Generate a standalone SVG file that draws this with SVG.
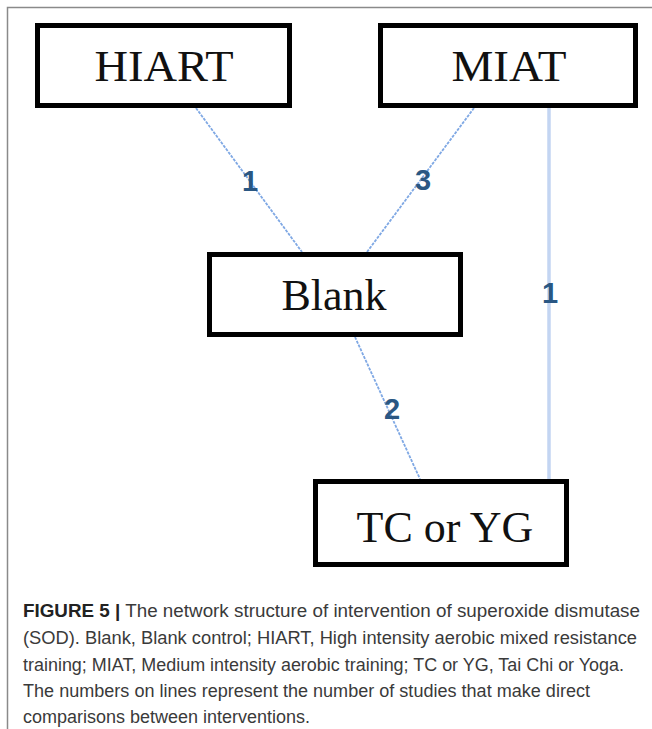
<svg xmlns="http://www.w3.org/2000/svg" width="652" height="729" viewBox="0 0 652 729">
<style>
.box{fill:#fff;stroke:#000;stroke-width:5}
.lbl{font-family:"Liberation Serif","Times New Roman",serif;font-size:44px;fill:#111;text-anchor:middle}
.edge{stroke:#7fa8e4;stroke-width:1.8;fill:none;stroke-dasharray:3 1.2}
.edge2{stroke:#c3d5f2;stroke-width:3.5;fill:none}
.num{font-family:"Liberation Sans",Arial,sans-serif;font-weight:bold;font-size:29px;fill:#2a5783;text-anchor:middle}
.cap{font-family:"Liberation Sans",Arial,sans-serif;font-size:17.5px;fill:#3a3a3a}
</style>
<rect width="652" height="729" fill="#fff"/>
<path d="M7.5 729 V7.5 H652" fill="none" stroke="#8a8a8a" stroke-width="1.5"/>
<g id="connectors">
<line class="edge" x1="196" y1="108" x2="302" y2="252"/>
<line class="edge" x1="474" y1="108" x2="367" y2="252"/>
<line class="edge" x1="355" y1="337" x2="420" y2="479"/>
<line class="edge2" x1="549" y1="108" x2="549" y2="479"/>
<text class="num" x="250" y="191">1</text>
<text class="num" x="423" y="190">3</text>
<text class="num" x="550" y="303">1</text>
<text class="num" x="392" y="419">2</text>
</g>
<g id="HIART">
<rect class="box" x="37.5" y="25.5" width="252" height="80"/>
<text class="lbl" x="164" y="81" textLength="139" lengthAdjust="spacingAndGlyphs">HIART</text>
</g>
<g id="MIAT">
<rect class="box" x="380.5" y="25.5" width="255" height="80"/>
<text class="lbl" x="509" y="81" textLength="115" lengthAdjust="spacingAndGlyphs">MIAT</text>
</g>
<g id="Blank">
<rect class="box" x="209.5" y="254.5" width="251" height="80"/>
<text class="lbl" x="334" y="310">Blank</text>
</g>
<g id="TCYG">
<rect class="box" x="315.5" y="481.5" width="251" height="83"/>
<text class="lbl" x="445" y="542">TC or YG</text>
</g>
<g id="caption">
<text class="cap" x="23" y="617" textLength="617" lengthAdjust="spacingAndGlyphs"><tspan font-weight="bold" fill="#222">FIGURE 5 |</tspan> The network structure of intervention of superoxide dismutase</text>
<text class="cap" x="23" y="644" textLength="614" lengthAdjust="spacingAndGlyphs">(SOD). Blank, Blank control; HIART, High intensity aerobic mixed resistance</text>
<text class="cap" x="23" y="671" textLength="601" lengthAdjust="spacingAndGlyphs">training; MIAT, Medium intensity aerobic training; TC or YG, Tai Chi or Yoga.</text>
<text class="cap" x="23" y="697" textLength="567" lengthAdjust="spacingAndGlyphs">The numbers on lines represent the number of studies that make direct</text>
<text class="cap" x="23" y="723" textLength="287" lengthAdjust="spacingAndGlyphs">comparisons between interventions.</text>
</g>
</svg>
